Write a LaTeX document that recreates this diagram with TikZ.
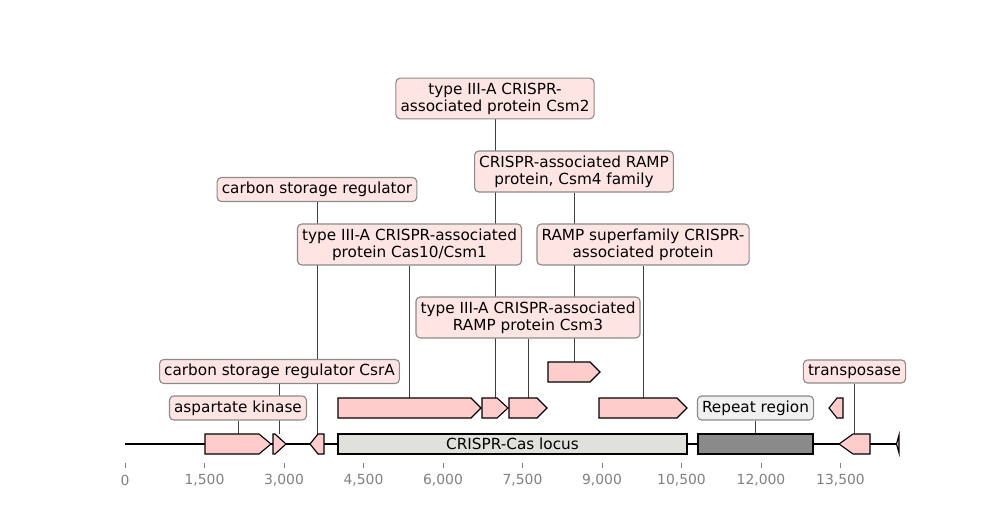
\documentclass[tikz,border=0pt]{standalone}
\usepackage{fontspec}
\setmainfont{DejaVu Sans}
\usetikzlibrary{positioning,calc}
\pgfdeclarelayer{bg}
\pgfsetlayers{bg,main}
\definecolor{genepink}{HTML}{FFCCCC}
\definecolor{labpink}{HTML}{FFE4E4}
\definecolor{locusgray}{HTML}{E1E1DC}
\definecolor{repgray}{HTML}{8A8A8A}
\definecolor{replab}{HTML}{F0F0F0}
\definecolor{edgegray}{HTML}{8A8A8A}
\definecolor{ticktext}{HTML}{808080}
\tikzset{feat/.style={draw=black,fill=genepink,line width=0.8pt,line join=miter},
  lbl/.style={draw=edgegray,fill=labpink,rounded corners=3pt,inner sep=3.3pt,
    align=center,font=\fontsize{11}{12.2}\selectfont,line width=0.8pt},
  leader/.style={draw=black!75,line width=0.6pt}}
% forward / reverse gene arrows: name, x start, x end, y centre, head length
\newcommand{\fwdgene}[5]{%
  \draw[feat] (#2,#4-10) -- (#3-#5,#4-10) -- (#3,#4) -- (#3-#5,#4+10) -- (#2,#4+10) -- cycle;
  \coordinate (#1) at ({(#2+#3)/2},#4-10);}
\newcommand{\revgene}[5]{%
  \draw[feat] (#2,#4) -- (#2+#5,#4-10) -- (#3,#4-10) -- (#3,#4+10) -- (#2+#5,#4+10) -- cycle;
  \coordinate (#1) at ({(#2+#3)/2},#4-10);}
\begin{document}
\begin{tikzpicture}[x=0.72pt,y=-0.72pt]
\useasboundingbox (0,0) rectangle (1000,520);
% axis
\foreach \i/\t in {0/0,1/{1,500},2/{3,000},3/{4,500},4/{6,000},5/{7,500},6/{9,000},7/{10,500},8/{12,000},9/{13,500}}{
  \draw[ticktext,line width=0.6pt] (125+\i*79.5,463) -- (125+\i*79.5,468);
  \node[ticktext,font=\fontsize{10}{12}\selectfont] (tick\i) at (125+\i*79.5,480) {\t};}
\draw[line width=1.5pt] (125,444) -- (899,444);
% features
\fwdgene{gAsp}{205}{271}{444}{12}
\fwdgene{gCsrA}{273}{286}{444}{11}
\revgene{gCsr}{310}{324}{444}{8}
\draw[feat,fill=locusgray] (338,434) rectangle (687,454);
\node[font=\fontsize{11}{12}\selectfont] (locus) at (512.5,444) {CRISPR-Cas locus};
\draw[feat,fill=repgray] (698,434) rectangle (813,454);
\coordinate (rep) at (755.5,434);
\revgene{gTra}{839}{870}{444}{14}
\draw[feat] (899,435) -- (896.5,444) -- (899,453) -- cycle;
\fwdgene{gCas}{338}{481}{408}{10}
\fwdgene{gCsmB}{482}{508}{408}{11}
\fwdgene{gCsmC}{509}{547}{408}{10}
\fwdgene{gRamp}{599}{687}{408}{10}
\revgene{gSmall}{829}{843}{408}{8}
\fwdgene{gCsmD}{548}{600}{372}{10}
% labels
\node[lbl] (lCsmB) at (495,98.5) {type III-A CRISPR-\\associated protein Csm2};
\node[lbl] (lCsmD) at (574,171.5) {CRISPR-associated RAMP\\protein, Csm4 family};
\node[lbl] (lCsr) at (317,189.5) {carbon storage regulator};
\node[lbl] (lCas) at (409.5,244.5) {type III-A CRISPR-associated\\protein Cas10/Csm1};
\node[lbl] (lRamp) at (643,244.5) {RAMP superfamily CRISPR-\\associated protein};
\node[lbl] (lCsmC) at (528,317.5) {type III-A CRISPR-associated\\RAMP protein Csm3};
\node[lbl] (lCsrA) at (279.5,371.5) {carbon storage regulator CsrA};
\node[lbl] (lTra) at (854.5,371.5) {transposase};
\node[lbl] (lAsp) at (238,408) {aspartate kinase};
\node[lbl,fill=replab] (lRep) at (755.5,408) {Repeat region};
% leader lines, behind everything
\begin{pgfonlayer}{bg}
\foreach \a/\b in {lCsmB/gCsmB,lCsmD/gCsmD,lCsr/gCsr,lCas/gCas,lRamp/gRamp,lCsmC/gCsmC,lCsrA/gCsrA,lTra/gTra,lAsp/gAsp,lRep/rep}
  \draw[leader] (\a.south -| \b) -- (\b);
\end{pgfonlayer}
\end{tikzpicture}
\end{document}
